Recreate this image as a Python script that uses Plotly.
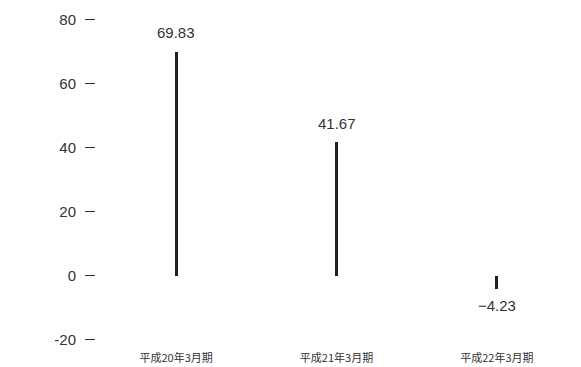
import plotly.graph_objects as go

categories = ["平成20年3月期", "平成21年3月期", "平成22年3月期"]
values = [69.83, 41.67, -4.23]
y_tick_vals = [-20, 0, 20, 40, 60, 80]
y_tick_text = ["-20", "0", "20", "40", "60", "80"]

fig = go.Figure()
fig.add_trace(go.Bar(
    x=categories, y=values, width=0.019,
    marker=dict(color="#231f20", line=dict(width=0)),
    hoverinfo="skip",
))

for c, v in zip(categories, values):
    fig.add_annotation(
        x=c, y=v, text=f"{v:.2f}".replace("-", "−"), showarrow=False,
        yshift=19 if v >= 0 else -16,
        font=dict(size=15, color="#333333", family="Liberation Sans, Arial, sans-serif"),
    )

fig.update_layout(
    width=573, height=359,
    margin=dict(l=88, r=4, t=5, b=21, autoexpand=False),
    paper_bgcolor="white", plot_bgcolor="white",
    showlegend=False,
    bargap=0,
    xaxis=dict(
        type="category", showgrid=False, zeroline=False, showline=False,
        ticks="", tickfont=dict(size=11, color="#333333", family="Noto Sans CJK JP"),
        ticklabelstandoff=4, automargin=False,
    ),
    yaxis=dict(
        range=[-22, 82], showgrid=False, zeroline=False, showline=False,
        tickvals=y_tick_vals, ticktext=y_tick_text,
        ticks="outside", ticklen=10, tickwidth=1, tickcolor="#333333",
        tickfont=dict(size=15, color="#333333", family="Liberation Sans, Arial, sans-serif"),
        ticklabelstandoff=6, automargin=False,
    ),
)

fig.write_html("out.html")
